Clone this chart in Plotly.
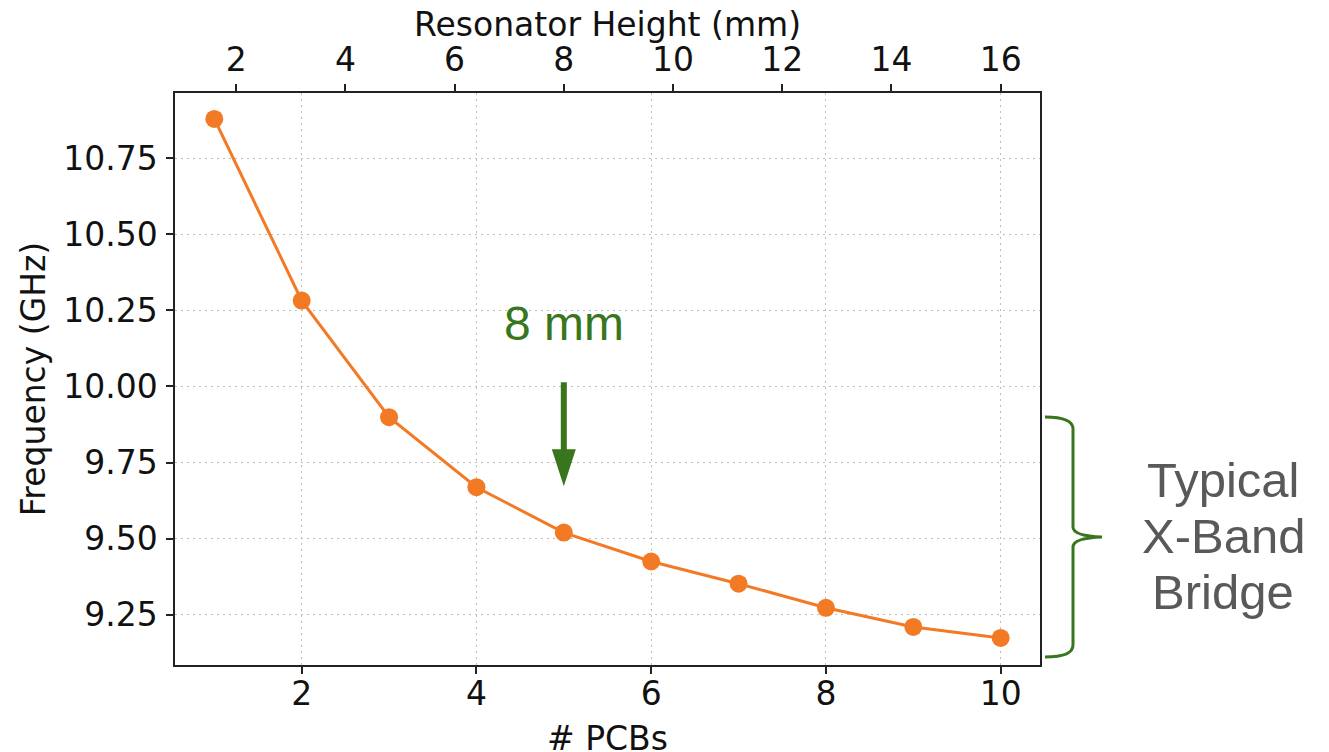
import plotly.graph_objects as go

# data
num_pcbs = [1, 2, 3, 4, 5, 6, 7, 8, 9, 10]
height_mm = [1.6, 3.2, 4.8, 6.4, 8.0, 9.6, 11.2, 12.8, 14.4, 16.0]
freq_ghz = [10.879, 10.282, 9.899, 9.669, 9.520, 9.425, 9.352, 9.273, 9.210, 9.174]
y_ticks = [9.25, 9.50, 9.75, 10.00, 10.25, 10.50, 10.75]
mm_ticks = [2, 4, 6, 8, 10, 12, 14, 16]
pcb_ticks = [2, 4, 6, 8, 10]

ORANGE = "#f37a24"
GREEN = "#38761d"
GREY_TEXT = "#595959"
AXIS_COLOR = "#222222"
GRID_COLOR = "#bdbdbd"
TICK_FONT = dict(family="DejaVu Sans", size=33, color="#111111")
TITLE_FONT = dict(family="DejaVu Sans", size=33, color="#111111")

# the page body adds an 8px margin, so size the figure to fit the window
PAGE_OFF = 8
W, H = 1329 - PAGE_OFF, 752 - PAGE_OFF
# plot area (page pixels)
L, R, T, B = 175, 1040, 93, 665


def px_to_paper_y(py):
    return (B - py) / (B - T)


fig = go.Figure()
fig.add_trace(go.Scatter(
    x=num_pcbs, y=freq_ghz, mode="lines+markers",
    line=dict(color=ORANGE, width=3),
    marker=dict(color=ORANGE, size=18),
    showlegend=False,
))
# invisible trace so the top axis is drawn
fig.add_trace(go.Scatter(
    x=height_mm, y=freq_ghz, xaxis="x2", mode="markers",
    marker=dict(opacity=0), hoverinfo="skip", showlegend=False,
))

axis_common = dict(
    showline=True, linecolor=AXIS_COLOR, linewidth=1.5,
    ticks="outside", ticklen=7, tickwidth=1.5, tickcolor=AXIS_COLOR,
    tickfont=TICK_FONT, zeroline=False, automargin=False,
)
grid = dict(showgrid=True, gridcolor=GRID_COLOR, griddash="2px,4px", gridwidth=1)

fig.update_layout(
    width=W, height=H,
    margin=dict(l=L - PAGE_OFF, r=1329 - R, t=T - PAGE_OFF, b=752 - B),
    paper_bgcolor="white", plot_bgcolor="white",
    xaxis=dict(
        range=[0.55, 10.45], tickvals=pcb_ticks, mirror=True, ticklabelstandoff=-8,
        **grid, **axis_common,
    ),
    xaxis2=dict(
        range=[0.88, 16.72], tickvals=mm_ticks, overlaying="x", side="top",
        showgrid=False,
        **axis_common,
    ),
    yaxis=dict(
        range=[9.085, 10.964], tickvals=y_ticks, tickformat=".2f", mirror=True,
        ticklabelstandoff=2,
        title=dict(text="Frequency (GHz)", font=TITLE_FONT, standoff=8),
        **grid, **axis_common,
    ),
)

# x axis titles placed by hand
fig.add_annotation(
    x=0.5, y=px_to_paper_y(738), xref="paper", yref="paper",
    xanchor="center", yanchor="middle", text="# PCBs", showarrow=False,
    font=TITLE_FONT,
)
fig.add_annotation(
    x=0.5, y=px_to_paper_y(24), xref="paper", yref="paper",
    xanchor="center", yanchor="middle", text="Resonator Height (mm)", showarrow=False,
    font=TITLE_FONT,
)

# "8 mm" label and arrow
fig.add_annotation(
    x=5, y=10.206, xref="x", yref="y", text="8 mm", showarrow=False,
    font=dict(family="Liberation Sans", size=48, color=GREEN),
)
fig.add_shape(
    type="path", xref="x", yref="y", xsizemode="pixel", ysizemode="pixel",
    xanchor=5, yanchor=9.672,
    path="M 0,0 L -12,37 L -3,37 L -3,104 L 3,104 L 3,37 L 12,37 Z",
    fillcolor=GREEN, line=dict(color=GREEN, width=0),
)

# brace on the right
fig.add_shape(
    type="path", xref="paper", yref="paper", xsizemode="pixel", ysizemode="pixel",
    xanchor=1, yanchor=px_to_paper_y(537),
    path="M 5,120 Q 33,120 33,108 L 33,10 Q 33,1 62,0 Q 33,-1 33,-10 L 33,-108 Q 33,-120 5,-120",
    line=dict(color=GREEN, width=3),
)

side_lines = ["Typical", "X-Band", "Bridge"]
for i, line in enumerate(side_lines):
    fig.add_annotation(
        x=(1223 - L) / (R - L), y=px_to_paper_y(480 + i * 56),
        xref="paper", yref="paper", xanchor="center", yanchor="middle",
        text=line, showarrow=False,
        font=dict(family="Liberation Sans", size=49, color=GREY_TEXT),
    )

fig.write_html("out.html")
